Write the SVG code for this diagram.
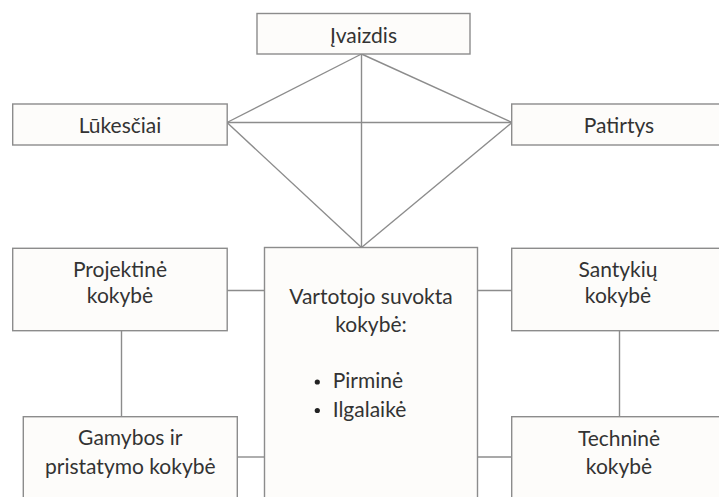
<svg xmlns="http://www.w3.org/2000/svg" width="719" height="497" viewBox="0 0 719 497">
<style>
.box{fill:#fdfcfa;stroke:#8c8c8c;stroke-width:1.4}
.ln{stroke:#8c8c8c;stroke-width:1.4;fill:none}
text{font-family:Lato,"Open Sans","Liberation Sans",sans-serif;font-size:21px;fill:#333333}
.c{text-anchor:middle}
</style>
<rect width="719" height="497" fill="#ffffff"/>
<g id="connectors">
<line class="ln" x1="361.5" y1="54" x2="227" y2="122.5"/>
<line class="ln" x1="361.5" y1="54" x2="512" y2="122.5"/>
<line class="ln" x1="361.5" y1="54" x2="361.5" y2="247.5"/>
<line class="ln" x1="227" y1="122.5" x2="512" y2="122.5"/>
<line class="ln" x1="227" y1="122.5" x2="361.5" y2="247.5"/>
<line class="ln" x1="512" y1="122.5" x2="361.5" y2="247.5"/>
<line class="ln" x1="227" y1="290.5" x2="264.5" y2="290.5"/>
<line class="ln" x1="477.5" y1="290.5" x2="512" y2="290.5"/>
<line class="ln" x1="121.5" y1="330.5" x2="121.5" y2="416.5"/>
<line class="ln" x1="619.5" y1="330.5" x2="619.5" y2="416.5"/>
<line class="ln" x1="237.5" y1="457" x2="264.5" y2="457"/>
<line class="ln" x1="477.5" y1="457" x2="512" y2="457"/>
</g>
<g id="ivaizdis">
<rect class="box" x="257" y="13.5" width="213" height="40.5"/>
<text class="c" x="363.5" y="42.7">Įvaizdis</text>
</g>
<g id="lukesciai">
<rect class="box" x="12.7" y="104" width="214.5" height="41"/>
<text class="c" x="120" y="133.3">Lūkesčiai</text>
</g>
<g id="patirtys">
<rect class="box" x="511.7" y="104" width="214.5" height="41"/>
<text class="c" x="619" y="133.3">Patirtys</text>
</g>
<g id="vartotojo">
<rect class="box" x="264.5" y="247.5" width="213" height="260"/>
<text class="c" x="371" y="304">Vartotojo suvokta</text>
<text class="c" x="371" y="331.7">kokybė:</text>
<circle cx="317.3" cy="382" r="2.6" fill="#222222"/>
<circle cx="317.3" cy="410.5" r="2.6" fill="#222222"/>
<text x="332.7" y="388">Pirminė</text>
<text x="332.7" y="416.7">Ilgalaikė</text>
</g>
<g id="projektine">
<rect class="box" x="12.7" y="248.3" width="214.5" height="82.4"/>
<text class="c" x="120" y="276.7">Projektinė</text>
<text class="c" x="120" y="303.3">kokybė</text>
</g>
<g id="santykiu">
<rect class="box" x="511.7" y="248.3" width="214.5" height="82.4"/>
<text class="c" x="618" y="276.7">Santykių</text>
<text class="c" x="618" y="303.3">kokybė</text>
</g>
<g id="gamybos">
<rect class="box" x="23.3" y="416.7" width="214" height="100"/>
<text class="c" x="130.3" y="445">Gamybos ir</text>
<text class="c" x="130.3" y="474">pristatymo kokybė</text>
</g>
<g id="technine">
<rect class="box" x="511.7" y="416.7" width="214.5" height="100"/>
<text class="c" x="619" y="446">Techninė</text>
<text class="c" x="619" y="474">kokybė</text>
</g>
</svg>
